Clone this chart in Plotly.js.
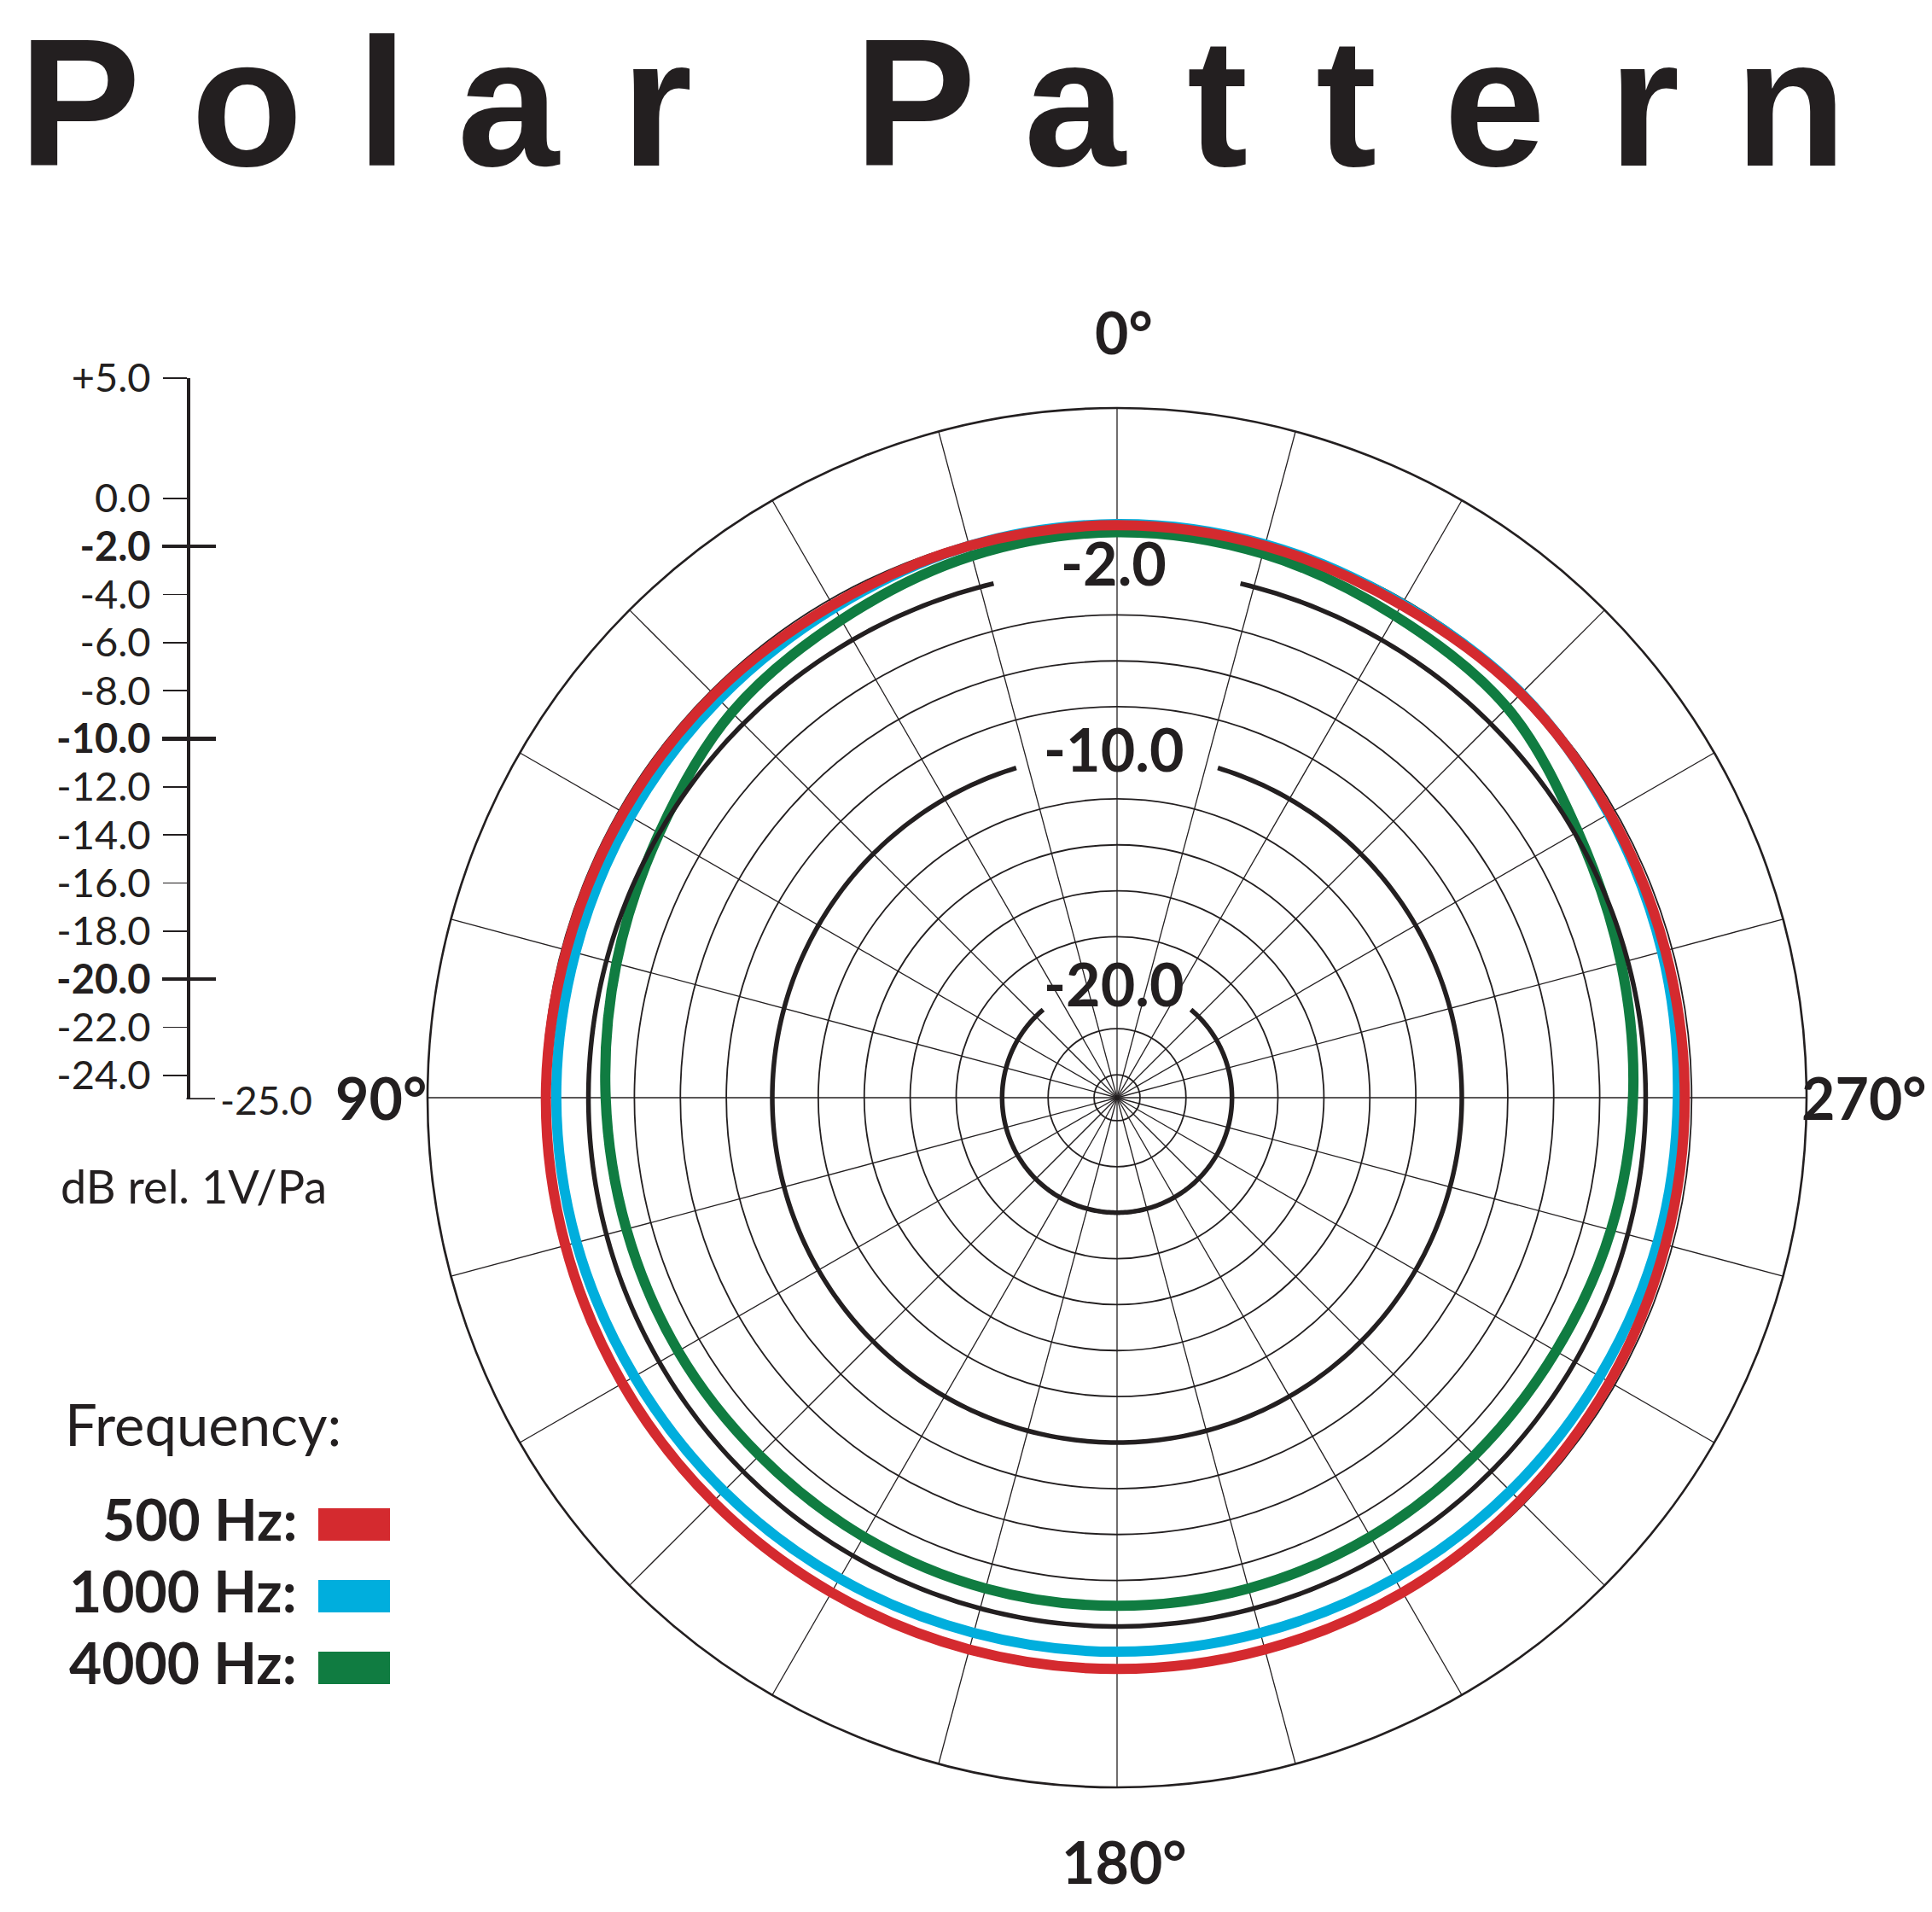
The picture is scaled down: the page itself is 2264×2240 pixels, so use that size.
<!DOCTYPE html>
<html><head><meta charset="utf-8">
<script src="https://cdn.plot.ly/plotly-3.0.1.min.js"></script>
<style>html,body{margin:0;padding:0;background:#fff;} #chart{width:2264px;height:2240px;}</style>
</head><body><div id="chart"></div>
<script>
// ---------------- data ----------------
const chartTitle = "Polar Pattern";
const angles = [0,15,30,45,60,75,90,105,120,135,150,165,180,195,210,225,240,255,270,285,300,315,330,345];
const freqLabels = ["500 Hz:", "1000 Hz:", "4000 Hz:"];
const freqColors = ["#d42a2f", "#00aedd", "#107c41"];
const r500  = [-0.1,-0.15,-0.25,-0.2,-0.2,-0.2,-0.15,-0.15,-0.15,-0.15,-0.15,-0.15,-0.15,-0.15,-0.15,-0.2,-0.25,-0.3,-0.3,-0.3,-0.25,-0.15,-0.25,-0.15];
const r1000 = [-0.05,-0.15,-0.4,-0.5,-0.55,-0.6,-0.6,-0.65,-0.75,-0.8,-0.85,-0.9,-0.9,-0.9,-0.85,-0.8,-0.75,-0.65,-0.6,-0.45,-0.3,-0.12,-0.2,-0.08];
const r4000 = [-0.4,-0.6,-1.0,-1.3,-2.0,-2.45,-2.75,-2.9,-2.95,-3.0,-2.95,-2.9,-2.9,-2.9,-2.95,-3.0,-2.95,-2.75,-2.55,-2.3,-1.85,-1.0,-0.8,-0.5];
const radialMin = -25, radialMax = 5;
const ringTicks = [-24,-22,-18,-16,-14,-12,-8,-6,-4,0];
const highlightRings = [-2,-10,-20];
const highlightGaps = [13.5,17,40];
const scaleTicks = [5,0,-2,-4,-6,-8,-10,-12,-14,-16,-18,-20,-22,-24];
const angleLabels = ["0°","90°","180°","270°"];
const unitLabel = "dB rel. 1V/Pa";
const legendTitle = "Frequency:";

// ---------------- layout geometry ----------------
const W = 2264, H = 2240;
const cx = 1309, cy = 1286, R = 808;
const ink = "#231f20";
const px = x => x / W, py = y => 1 - y / H;
const fontFam = "Lato, 'Open Sans', sans-serif";
const titleFam = "'Liberation Sans', Arial, sans-serif";

const series = [r500, r1000, r4000];
const traces = [];
// curves: draw 4000, 1000, then 500 on top
[2,1,0].forEach(i => {
  const v = series[i];
  traces.push({
    type: "scatterpolar", subplot: "polar",
    r: v.concat([v[0]]), theta: angles.concat([360]),
    mode: "lines", line: {color: freqColors[i], width: 12, shape: "spline", smoothing: 1},
    hoverinfo: "skip"
  });
});
// thick highlighted rings with gaps at the top for labels
highlightRings.forEach((ring, k) => {
  const g = highlightGaps[k];
  const th = [], rr = [];
  for (let a = g; a <= 360 - g + 1e-9; a += 1) { th.push(a); rr.push(ring); }
  traces.push({
    type: "scatterpolar", subplot: "polar", r: rr, theta: th,
    mode: "lines", line: {color: ink, width: 5.5}, hoverinfo: "skip"
  });
});
// invisible anchors for the left dB scale axes
["y","y2","y3"].forEach(ya => traces.push({
  type: "scatter", xaxis: "x", yaxis: ya, x: [0,0], y: [radialMin, radialMax],
  mode: "markers", marker: {size: 1, opacity: 0}, hoverinfo: "skip"
}));

const ticktext = scaleTicks.map(v => {
  const s = (v > 0 ? "+" : "") + v.toFixed(1);
  return highlightRings.includes(v) ? "<b>" + s + "</b>" : s;
});

const annotations = [];
// title letters, widely spaced
const titleX = [94, 289.5, 447.5, 596.5, 769, null, 1072, 1260, 1426, 1577, 1751.5, 1926.5, 2098.5];
chartTitle.split("").forEach((ch, i) => {
  if (ch === " ") return;
  annotations.push({xref: "paper", yref: "paper", x: px(titleX[i]), y: 1,
    xanchor: "center", yanchor: "top", borderpad: 0, borderwidth: 0,
    showarrow: false, text: ch,
    font: {family: titleFam, size: 214, color: ink, weight: 700}});
});
// angle labels
const angPos = [[1317, 388], [446, 1285], [1317, 2180], [2184, 1285]];
angleLabels.forEach((t, i) => annotations.push({xref: "paper", yref: "paper",
  x: px(angPos[i][0]), y: py(angPos[i][1]), xanchor: "center", yanchor: "middle",
  showarrow: false, text: t, font: {family: fontFam, size: 68, color: ink, weight: 700}}));
// ring labels
const ringOff = [-8, -5, 1];
highlightRings.forEach((ring, k) => {
  const yPix = cy - (ring - radialMin) / (radialMax - radialMin) * R + ringOff[k];
  annotations.push({xref: "paper", yref: "paper", x: px(cx - 4), y: py(yPix),
    xanchor: "center", yanchor: "middle", showarrow: false, text: ring.toFixed(1),
    font: {family: fontFam, size: 70, color: ink, weight: 700}});
});
// scale bottom label
annotations.push({xref: "paper", yref: "y", x: px(256), y: radialMin, xanchor: "left", yanchor: "middle",
  showarrow: false, text: radialMin.toFixed(1), font: {family: fontFam, size: 46, color: ink}});
annotations.push({xref: "paper", yref: "paper", x: px(227), y: py(1389), xanchor: "center", yanchor: "middle",
  showarrow: false, text: unitLabel, font: {family: fontFam, size: 54, color: ink}});
// legend
annotations.push({xref: "paper", yref: "paper", x: px(74), y: py(1668), xanchor: "left", yanchor: "middle",
  showarrow: false, text: legendTitle, font: {family: fontFam, size: 67, color: ink}});
const legY = [1779, 1863, 1947];
const shapes = [];
freqLabels.forEach((t, i) => {
  annotations.push({xref: "paper", yref: "paper", x: px(350), y: py(legY[i]), xanchor: "right", yanchor: "middle",
    showarrow: false, text: t, font: {family: fontFam, size: 66, color: ink, weight: 700}});
  shapes.push({type: "rect", xref: "paper", yref: "paper", x0: px(373), x1: px(457),
    y0: py(legY[i] + 7 + 19), y1: py(legY[i] + 7 - 19), fillcolor: freqColors[i], line: {width: 0}});
});

const yDom = [py(1288), py(443)];
const axisX = px(220);
// corner at the bottom of the dB scale
shapes.push({type: "line", xref: "paper", yref: "y", x0: axisX - px(1.5), x1: px(252), y0: radialMin, y1: radialMin,
  line: {color: ink, width: 3.5}});

const layout = {
  width: W, height: H, margin: {l: 0, r: 0, t: 0, b: 0},
  paper_bgcolor: "#fff", plot_bgcolor: "rgba(0,0,0,0)", showlegend: false,
  font: {family: fontFam, color: ink},
  polar: {
    domain: {x: [px(cx - R), px(cx + R)], y: [py(cy + R), py(cy - R)]},
    bgcolor: "#fff",
    radialaxis: {range: [radialMin, radialMax], tickmode: "array", tickvals: ringTicks,
      showticklabels: false, ticks: "", showline: false, gridcolor: ink, gridwidth: 1.8},
    angularaxis: {rotation: 90, direction: "counterclockwise", tickmode: "linear", tick0: 0, dtick: 15,
      showticklabels: false, ticks: "", showline: true, linecolor: ink, linewidth: 2.6,
      gridcolor: ink, gridwidth: 1.3}
  },
  xaxis: {domain: [0, 0.05], range: [0, 1], visible: false, fixedrange: true},
  yaxis: {domain: yDom, range: [radialMin, radialMax], anchor: "free", position: axisX, side: "left",
    tickmode: "array", tickvals: scaleTicks, ticktext: ticktext, ticks: "outside", ticklen: 28,
    tickwidth: 1.5, tickcolor: ink, showline: true, linewidth: 3.5, linecolor: ink,
    showgrid: false, zeroline: false, ticklabelstandoff: 5,
    tickfont: {family: fontFam, size: 47, color: ink}, fixedrange: true},
  yaxis2: {overlaying: "y", range: [radialMin, radialMax], anchor: "free", position: axisX, side: "left",
    tickmode: "array", tickvals: highlightRings, ticks: "outside", ticklen: 30, tickwidth: 4.5,
    tickcolor: ink, showticklabels: false, showline: false, showgrid: false, zeroline: false, fixedrange: true},
  yaxis3: {overlaying: "y", range: [radialMin, radialMax], anchor: "free", position: axisX, side: "left",
    tickmode: "array", tickvals: highlightRings, ticks: "inside", ticklen: 32, tickwidth: 4.5,
    tickcolor: ink, showticklabels: false, showline: false, showgrid: false, zeroline: false, fixedrange: true},
  annotations: annotations,
  shapes: shapes
};
Plotly.newPlot("chart", traces, layout, {staticPlot: true, displayModeBar: false});
</script></body></html>
